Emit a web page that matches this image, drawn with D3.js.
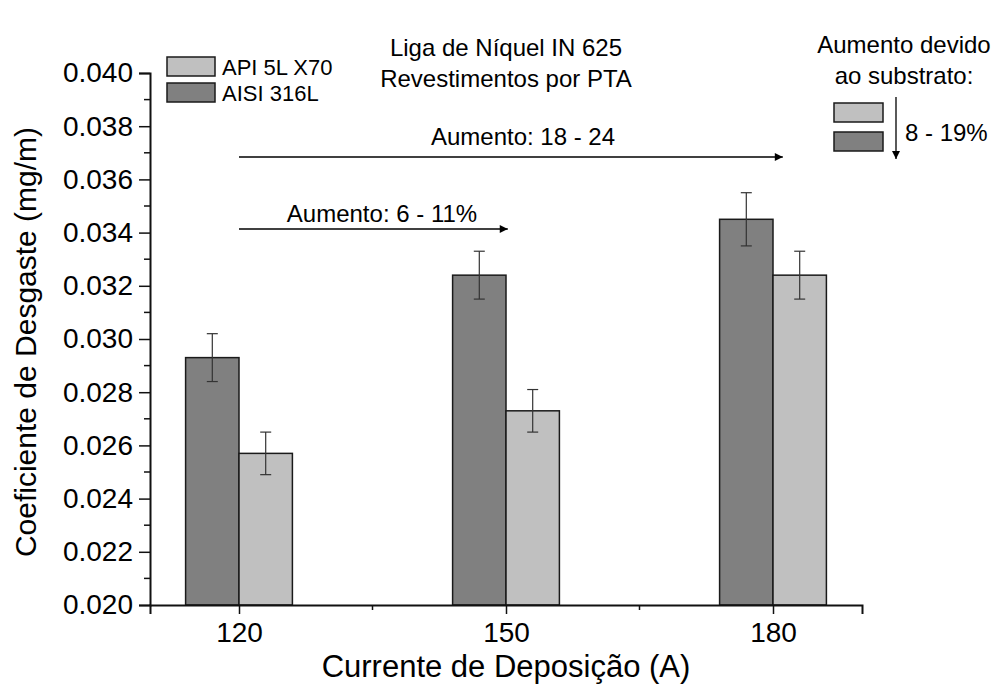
<!DOCTYPE html>
<html>
<head>
<meta charset="utf-8">
<script src="https://cdn.jsdelivr.net/npm/d3@7"></script>
<style>
  html, body { margin: 0; padding: 0; background: #fff; }
  svg { display: block; font-family: "Liberation Sans", Arial, sans-serif; }
</style>
</head>
<body>
<svg id="chart" width="999" height="688"></svg>
<script>
// Wear coefficient of IN 625 PTA coatings by deposition current and substrate
const currents = [120, 150, 180];
const seriesNames = ["API 5L X70", "AISI 316L"];
const valuesX70 = [0.0257, 0.0273, 0.0324];
const errorsX70 = [0.0008, 0.0008, 0.0009];
const values316L = [0.0293, 0.0324, 0.0345];
const errors316L = [0.0009, 0.0009, 0.0010];
const yTicks = [0.020, 0.022, 0.024, 0.026, 0.028, 0.030, 0.032, 0.034, 0.036, 0.038, 0.040];
const xTicks = [120, 150, 180];

const svg = d3.select("#chart");
const plotLeft = 150, plotRight = 862, plotTop = 73, plotBottom = 605;

const x = d3.scaleLinear().domain([110, 190]).range([plotLeft, plotRight]);
const y = d3.scaleLinear().domain([0.020, 0.040]).range([plotBottom, plotTop]);
const barW = x(126) - x(120);

const colors = { "AISI 316L": "#808080", "API 5L X70": "#c0c0c0" };

const rows = [];
currents.forEach((c, i) => {
  rows.push({ c, s: "AISI 316L", v: values316L[i], e: errors316L[i], offset: -1 });
  rows.push({ c, s: "API 5L X70", v: valuesX70[i], e: errorsX70[i], offset: 0 });
});

// bars
svg.append("g").selectAll("rect").data(rows).join("rect")
  .attr("x", d => x(d.c) + d.offset * barW)
  .attr("y", d => y(d.v))
  .attr("width", barW)
  .attr("height", d => y(0.020) - y(d.v))
  .attr("fill", d => colors[d.s])
  .attr("stroke", "#1a1a1a")
  .attr("stroke-width", 1.5);

// error bars
const eb = svg.append("g").attr("stroke", "#333").attr("stroke-width", 1.2);
rows.forEach(d => {
  const cx = x(d.c) + d.offset * barW + barW / 2;
  eb.append("line").attr("x1", cx).attr("x2", cx).attr("y1", y(d.v + d.e)).attr("y2", y(d.v - d.e));
  eb.append("line").attr("x1", cx - 5.5).attr("x2", cx + 5.5).attr("y1", y(d.v + d.e)).attr("y2", y(d.v + d.e));
  eb.append("line").attr("x1", cx - 5.5).attr("x2", cx + 5.5).attr("y1", y(d.v - d.e)).attr("y2", y(d.v - d.e));
});

// axes
const yAxis = d3.axisLeft(y).tickValues(yTicks).tickFormat(d3.format(".3f")).tickSizeOuter(0).tickSize(11).tickPadding(6);
const gy = svg.append("g").attr("transform", `translate(${plotLeft},0)`).call(yAxis);
gy.selectAll("text").attr("font-size", 28).attr("fill", "#000");
gy.select(".domain").attr("stroke-width", 2).attr("stroke", "#111");
gy.selectAll(".tick line").attr("stroke-width", 1.5).attr("stroke", "#111");
// minor y ticks
const minorY = d3.range(0.021, 0.040, 0.002);
svg.append("g").selectAll("line").data(minorY).join("line")
  .attr("x1", plotLeft - 6).attr("x2", plotLeft)
  .attr("y1", d => y(d)).attr("y2", d => y(d))
  .attr("stroke", "#111").attr("stroke-width", 1.5);

const xAxis = d3.axisBottom(x).tickValues(xTicks).tickSizeOuter(0).tickSize(9).tickPadding(8);
const gx = svg.append("g").attr("transform", `translate(0,${plotBottom})`).call(xAxis);
gx.selectAll("text").attr("font-size", 28).attr("fill", "#000");
gx.select(".domain").attr("stroke-width", 2).attr("stroke", "#111");
gx.selectAll(".tick line").attr("stroke-width", 1.5).attr("stroke", "#111");
// minor x ticks
svg.append("g").selectAll("line").data([135, 165]).join("line")
  .attr("x1", d => x(d)).attr("x2", d => x(d))
  .attr("y1", plotBottom).attr("y2", plotBottom + 5)
  .attr("stroke", "#111").attr("stroke-width", 1.5);

// axis titles
svg.append("text").attr("x", 506).attr("y", 677)
  .attr("text-anchor", "middle").attr("font-size", 31).text("Currente de Deposição (A)");
svg.append("text").attr("transform", `translate(36,342) rotate(-90)`)
  .attr("text-anchor", "middle").attr("font-size", 30).text("Coeficiente de Desgaste (mg/m)");

// title
const title = svg.append("text").attr("text-anchor", "middle").attr("font-size", 24);
title.append("tspan").attr("x", 506).attr("y", 56).text("Liga de Níquel IN 625");
title.append("tspan").attr("x", 506).attr("y", 87).text("Revestimentos por PTA");

// legend
const lg = svg.append("g");
seriesNames.forEach((s, i) => {
  lg.append("rect").attr("x", 167).attr("y", 57 + i * 26).attr("width", 48).attr("height", 19)
    .attr("fill", colors[s]).attr("stroke", "#1a1a1a").attr("stroke-width", 1.5);
  lg.append("text").attr("x", 222).attr("y", 75 + i * 26).attr("font-size", 22).text(s);
});

// arrow markers
const defs = svg.append("defs");
defs.append("marker")
  .attr("id", "head").attr("viewBox", "0 0 10 10").attr("refX", 10).attr("refY", 5)
  .attr("markerWidth", 15).attr("markerHeight", 8).attr("markerUnits", "userSpaceOnUse")
  .attr("orient", "auto")
  .append("path").attr("d", "M0,0 L10,5 L0,10 Z").attr("fill", "#000");
defs.append("marker")
  .attr("id", "headDown").attr("viewBox", "0 0 10 10").attr("refX", 10).attr("refY", 5)
  .attr("markerWidth", 13).attr("markerHeight", 8).attr("markerUnits", "userSpaceOnUse")
  .attr("orient", "auto")
  .append("path").attr("d", "M0,0 L10,5 L0,10 Z").attr("fill", "#000");

// annotations: increase with current
svg.append("line").attr("x1", x(120)).attr("x2", x(181.1)).attr("y1", 157).attr("y2", 157)
  .attr("stroke", "#000").attr("stroke-width", 1.3).attr("marker-end", "url(#head)");
svg.append("text").attr("x", 523).attr("y", 145).attr("text-anchor", "middle").attr("font-size", 24)
  .text("Aumento: 18 - 24");
svg.append("line").attr("x1", x(120)).attr("x2", x(150.2)).attr("y1", 229).attr("y2", 229)
  .attr("stroke", "#000").attr("stroke-width", 1.3).attr("marker-end", "url(#head)");
svg.append("text").attr("x", 382).attr("y", 222).attr("text-anchor", "middle").attr("font-size", 24)
  .text("Aumento: 6 - 11%");

// annotation: increase due to substrate
const sub = svg.append("text").attr("text-anchor", "middle").attr("font-size", 24);
sub.append("tspan").attr("x", 904).attr("y", 53).text("Aumento devido");
sub.append("tspan").attr("x", 904).attr("y", 84).text("ao substrato:");
svg.append("rect").attr("x", 834).attr("y", 103).attr("width", 49).attr("height", 19)
  .attr("fill", colors["API 5L X70"]).attr("stroke", "#1a1a1a").attr("stroke-width", 1.5);
svg.append("rect").attr("x", 834).attr("y", 132).attr("width", 49).attr("height", 19)
  .attr("fill", colors["AISI 316L"]).attr("stroke", "#1a1a1a").attr("stroke-width", 1.5);
svg.append("line").attr("x1", 896).attr("x2", 896).attr("y1", 97).attr("y2", 159)
  .attr("stroke", "#000").attr("stroke-width", 1.3)
  .attr("marker-end", "url(#headDown)");
svg.append("text").attr("x", 905).attr("y", 141).attr("font-size", 24).text("8 - 19%");
</script>
</body>
</html>
